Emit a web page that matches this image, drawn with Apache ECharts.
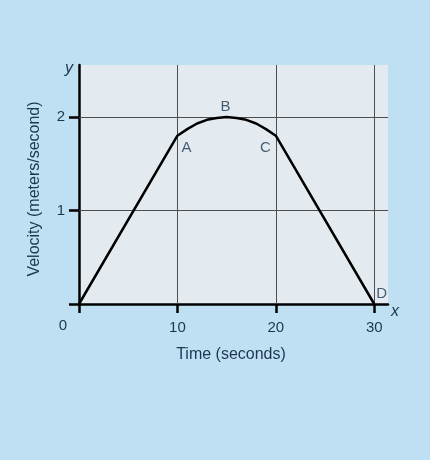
<!DOCTYPE html>
<html>
<head>
<meta charset="utf-8">
<script src="https://cdn.jsdelivr.net/npm/echarts@6/dist/echarts.min.js"></script>
<style>
html,body{margin:0;padding:0;background:#bfe0f3;}
#c{width:430px;height:460px;}
</style>
</head>
<body>
<div id="c"></div>
<script>
// Data
const timeTicks = [0, 10, 20, 30];
const velocityTicks = [0, 1, 2];
const curveTime = [0, 10, 11, 12, 13, 14, 15, 16, 17, 18, 19, 20, 30];
const curveVelocity = [0, 1.8, 1.87, 1.93, 1.97, 1.99, 2.0, 1.99, 1.97, 1.93, 1.87, 1.8, 0];
const pointNames = ['A', 'B', 'C', 'D'];
const pointTime = [10, 15, 20, 30];
const pointVelocity = [1.8, 2.0, 1.8, 0];

const textColor = '#1c3652';
const font = 'Liberation Sans, Arial, sans-serif';
const chart = echarts.init(document.getElementById('c'));

const curveData = curveTime.map((t, i) => [t, curveVelocity[i]]);
const labelPos = {A: ['right', [-1, 12]], B: ['top', [-1, 2]], C: ['left', [0, 12]], D: ['right', [-3, -10]]};
const pointData = pointNames.map((n, i) => ({
  value: [pointTime[i], pointVelocity[i]],
  name: n,
  label: {position: labelPos[n][0], offset: labelPos[n][1]}
}));

const gridStyle = {color: '#4d4d4d', width: 1, type: 'solid'};

chart.setOption({
  backgroundColor: '#bfe0f3',
  animation: false,
  grid: {left: 79, top: 65, width: 309, height: 239, show: true, backgroundColor: '#e3ebf0', borderWidth: 0},
  xAxis: {
    type: 'value', min: 0, max: 31.4,
    name: 'x', nameLocation: 'end', nameGap: 3,
    nameTextStyle: {fontStyle: 'italic', fontSize: 16, color: textColor, fontFamily: font, verticalAlign: 'top', padding: [0, 0, 0, 0]},
    axisLine: {show: true, lineStyle: {color: '#000', width: 2.5}},
    axisTick: {show: true, customValues: timeTicks, length: 9, lineStyle: {color: '#000', width: 2.5}},
    axisLabel: {customValues: timeTicks.filter(v => v !== 0), margin: 16, fontSize: 15, color: textColor, fontFamily: font},
    splitLine: {show: false}
  },
  yAxis: {
    type: 'value', min: 0, max: 2.556,
    name: 'y', nameLocation: 'end', nameGap: -4,
    nameTextStyle: {fontStyle: 'italic', fontSize: 16, color: textColor, fontFamily: font, align: 'right', verticalAlign: 'middle', padding: [0, 6, 0, 0]},
    axisLine: {show: true, lineStyle: {color: '#000', width: 2.5}},
    axisTick: {show: true, customValues: velocityTicks, length: 10, lineStyle: {color: '#000', width: 2.5}},
    axisLabel: {customValues: velocityTicks.filter(v => v !== 0), margin: 14, fontSize: 15, color: textColor, fontFamily: font},
    splitLine: {show: false}
  },
  series: [
    {
      type: 'line', data: curveData, showSymbol: false, z: 5,
      lineStyle: {color: '#000', width: 2.5},
      markLine: {
        silent: true, symbol: 'none', label: {show: false},
        lineStyle: gridStyle, z: 1,
        data: timeTicks.filter(v => v !== 0).map(v => ({xAxis: v})).concat(velocityTicks.filter(v => v !== 0).map(v => ({yAxis: v})))
      }
    },
    {
      type: 'scatter', data: pointData, symbolSize: 0, z: 6,
      label: {show: true, formatter: p => p.name, fontSize: 15, color: textColor, fontFamily: font}
    }
  ]
});

// Origin "0" label at the corner below-left of the origin, and the axis titles
const o = chart.convertToPixel({gridIndex: 0}, [timeTicks[0], velocityTicks[0]]);
chart.setOption({
  graphic: [{
    type: 'text', x: o[0] - 16, y: o[1] + 22,
    style: {text: String(timeTicks[0]), fontSize: 15, fill: textColor, fontFamily: font, align: 'center', verticalAlign: 'middle'}
  }, {
    type: 'text', x: 231, y: 355,
    style: {text: 'Time (seconds)', fontSize: 16, fill: textColor, fontFamily: font, align: 'center', verticalAlign: 'middle'}
  }, {
    type: 'text', rotation: Math.PI / 2, x: 35, y: 189,
    style: {text: 'Velocity (meters/second)', fontSize: 16, fill: textColor, fontFamily: font, align: 'center', verticalAlign: 'middle'}
  }]
});
</script>
</body>
</html>
